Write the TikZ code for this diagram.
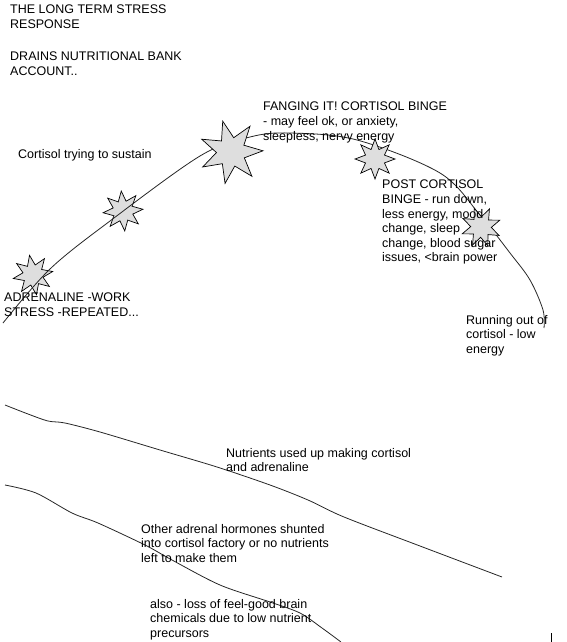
\documentclass[tikz,border=0pt]{standalone}
\usepackage{fontspec}
\setmainfont{Liberation Sans}
\usetikzlibrary{shapes.geometric}
\begin{document}
\begin{tikzpicture}[x=1pt,y=-1pt,
  lbl/.style={anchor=north west,inner sep=0pt,align=left,font=\fontsize{12.5}{14.6}\selectfont},
  burst/.style={star,draw=black,line width=0.7pt,fill=black!13,inner sep=0pt},
  bigburst/.style={burst,star points=7,star point ratio=2.2,minimum size=64pt},
  smallburst/.style={burst,star points=8,star point ratio=1.95,minimum size=40pt},
  curve/.style={draw=black!85,line width=0.8pt}]
\useasboundingbox (0,0) rectangle (567,642);

% stars under the curve
\node[smallburst,shape border rotate=10] (s1) at (33,275) {};
\node[smallburst,shape border rotate=5] (s2) at (123,211) {};

% main curve
\draw[curve] plot[smooth,tension=0.55] coordinates {(3,323) (50,269) (110,221) (200,156) (250,137) (290,133) (357,140) (440,173) (480,215) (510,253) (530,280) (543,310) (544,328)};

% stars over the curve
\node[bigburst,shape border rotate=15] (s3) at (231,152) {};
\node[smallburst,shape border rotate=0] (s4) at (375,159) {};
\node[smallburst,shape border rotate=20] (s5) at (481,227) {};

% lower lines
\draw[curve] plot[smooth,tension=0.5] coordinates {(5,405) (28,414) (48,421) (65,423) (100,432) (160,450) (217,467) (270,485) (308,500) (344,517) (420,546) (502,577)};
\draw[curve] plot[smooth,tension=0.5] coordinates {(5,485) (36,493) (72,513) (98,523) (145,545) (172,560) (220,585) (270,602) (300,613) (322,628) (341,642)};

% small mark
\draw[line width=1pt] (551,633) -- (551,642);

% texts
\node[lbl] (t1) at (10,5) {THE LONG TERM STRESS\\RESPONSE};
\node[lbl] (t2) at (10,52) {DRAINS NUTRITIONAL BANK\\ACCOUNT..};
\node[lbl] (t3) at (18,149) {Cortisol trying to sustain};
\node[lbl] (t4) at (4,293) {ADRENALINE -WORK\\STRESS -REPEATED...};
\node[lbl] (t5) at (263,102) {FANGING IT! CORTISOL BINGE\\- may feel ok, or anxiety,\\sleepless, nervy energy};
\node[lbl] (t6) at (382,180) {POST CORTISOL\\BINGE - run down,\\less energy, mood\\change, sleep\\change, blood sugar\\issues, <brain power};
\node[lbl] (t7) at (466,315) {Running out of\\cortisol - low\\energy};
\node[lbl] (t8) at (226,448) {Nutrients used up making cortisol\\and adrenaline};
\node[lbl] (t9) at (141,524) {Other adrenal hormones shunted\\into cortisol factory or no nutrients\\left to make them};
\node[lbl] (t10) at (150,599) {also - loss of feel-good brain\\chemicals due to low nutrient\\precursors};
\end{tikzpicture}
\end{document}
